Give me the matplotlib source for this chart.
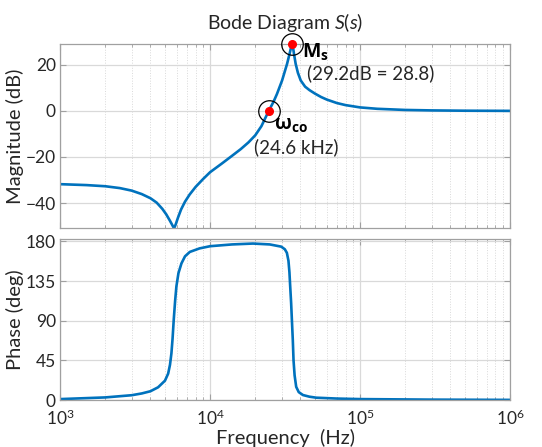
import numpy as np
import matplotlib.pyplot as plt
from matplotlib.ticker import LogLocator, NullFormatter

plt.rcParams['font.family'] = ['Lato', 'DejaVu Sans']
plt.rcParams['mathtext.fontset'] = 'custom'
plt.rcParams['mathtext.bf'] = 'Open Sans:bold'
plt.rcParams['mathtext.rm'] = 'Lato'
plt.rcParams['mathtext.it'] = 'Lato:italic'

# ---------------- data ----------------
mag_freq = [1e3, 1.5e3, 2e3, 2.5e3, 3e3, 3.5e3, 4e3, 4.4e3, 4.8e3, 5.1e3, 5.4e3,
            5.6e3, 5.75e3, 5.9e3, 6.1e3, 6.4e3, 6.8e3, 7.3e3, 8e3, 9e3, 1e4,
            1.2e4, 1.4e4, 1.6e4, 1.8e4, 2e4, 2.2e4, 2.46e4, 2.65e4, 2.79e4, 3.02e4,
            3.26e4, 3.38e4, 3.46e4, 3.52e4, 3.57e4, 3.63e4, 3.72e4, 3.85e4, 4.02e4,
            4.3e4, 4.6e4, 5e4, 5.5e4, 6e4, 7e4, 8e4, 1e5, 1.3e5, 2e5, 3e5, 5e5, 1e6]
mag_db = [-31.8, -32.2, -32.7, -33.5, -34.6, -36.1, -37.9, -39.8, -42.5, -44.9, -47.7,
          -49.6, -51.0, -49.2, -46.4, -42.8, -39.4, -36.3, -33.0, -29.5, -26.6,
          -22.8, -19.5, -16.6, -13.7, -10.6, -6.6, 0.0, 4.0, 7.3, 13.2,
          20.4, 24.5, 27.3, 29.2, 27.6, 24.5, 20.4, 16.5, 13.2,
          10.5, 9.0, 7.5, 6.0, 4.9, 3.4, 2.5, 1.5, 0.9, 0.4, 0.2, 0.07, 0.0]

ph_freq = [1e3, 2e3, 3e3, 3.5e3, 4e3, 4.5e3, 5e3, 5.25e3, 5.4e3, 5.52e3, 5.62e3,
           5.72e3, 5.84e3, 5.96e3, 6.15e3, 6.44e3, 6.8e3, 7.32e3, 8.5e3, 1e4,
           1.4e4, 1.93e4, 2.5e4, 2.98e4, 3.15e4, 3.25e4, 3.33e4, 3.38e4, 3.42e4,
           3.47e4, 3.51e4, 3.56e4, 3.6e4, 3.66e4, 3.75e4, 3.9e4, 4.16e4, 4.6e4,
           5.1e4, 7e4, 1e5, 3e5, 1e6]
ph_deg = [1.1, 3.0, 5.5, 7.5, 10.0, 14.5, 22.0, 30.0, 40.0, 53.0, 70.0,
          91.0, 112.0, 129.0, 144.0, 155.0, 163.0, 168.0, 172.0, 174.5,
          176.5, 177.5, 176.5, 174.0, 171.0, 167.0, 158.0, 145.0, 129.0,
          110.0, 91.0, 68.0, 45.0, 28.0, 15.0, 9.0, 5.7, 3.8,
          2.7, 1.7, 1.1, 0.5, 0.2]

f_co, m_co = 24.6e3, 0.0
f_pk, m_pk = 35.2e3, 29.2
# -----------------------------------------------------------

blue = '#0072BD'
grid_c = '#d9d9d9'
txt_c = '#262626'

fig = plt.figure(figsize=(5.42, 4.47), dpi=100)
ax1 = fig.add_axes([0.111, 0.490, 0.830, 0.411])
ax2 = fig.add_axes([0.111, 0.105, 0.830, 0.360])

for ax in (ax1, ax2):
    ax.set_xscale('log')
    ax.set_xlim(1e3, 1e6)
    ax.xaxis.set_minor_locator(LogLocator(base=10, subs=np.arange(2, 10), numticks=20))
    ax.xaxis.set_minor_formatter(NullFormatter())
    ax.grid(True, which='major', color=grid_c, lw=0.9, ls='-')
    ax.grid(True, which='minor', color=grid_c, lw=0.7, ls=':')
    ax.set_axisbelow(True)
    for s in ax.spines.values():
        s.set_color('#a0a0a0')
        s.set_linewidth(0.9)
    ax.tick_params(which='both', direction='in', color='#a0a0a0', labelsize=12.5,
                   labelcolor=txt_c, top=True, right=True, pad=3)
    ax.tick_params(which='major', length=4)
    ax.tick_params(which='minor', length=2.5)

# magnitude
ax1.plot(mag_freq, mag_db, color=blue, lw=1.9)
ax1.set_ylim(-50.8, 28.9)
ax1.set_yticks([-40, -20, 0, 20])
ax1.tick_params(labelbottom=False)
ax1.set_ylabel('Magnitude (dB)', fontsize=14.5, color=txt_c, labelpad=1)
ax1.set_title('Bode Diagram $\\mathit{S(s)}$', fontsize=14, color=txt_c, pad=11)

for f, m in [(f_co, m_co), (f_pk, m_pk)]:
    ax1.plot(f, m, 'o', ms=15.5, mfc='none', mec='black', mew=0.9, clip_on=False, zorder=4)
    ax1.plot(f, m, 'o', ms=5.5, color='red', clip_on=False, zorder=5)

ax1.text(41.0e3, 25.5, r'$\mathbf{M_s}$', fontsize=14, color='black', va='center')
ax1.text(44e3, 16.2, '(29.2dB = 28.8)', fontsize=13.5, color=txt_c, va='center')
ax1.text(26.7e3, -6.5, r'$\mathbf{\omega_{co}}$', fontsize=14, color='black', va='center')
ax1.text(19.6e3, -15.7, '(24.6 kHz)', fontsize=13.5, color=txt_c, va='center')

# phase
ax2.plot(ph_freq, ph_deg, color=blue, lw=1.9)
ax2.set_ylim(0, 182.5)
ax2.set_yticks([0, 45, 90, 135, 180])
ax2.tick_params(axis='x', pad=6.5)
ax2.set_ylabel('Phase (deg)', fontsize=14.5, color=txt_c, labelpad=1)
ax2.set_xlabel('Frequency  (Hz)', fontsize=14.5, color=txt_c, labelpad=0)

fig.align_ylabels([ax1, ax2])
fig.savefig('out.png', dpi=100)
